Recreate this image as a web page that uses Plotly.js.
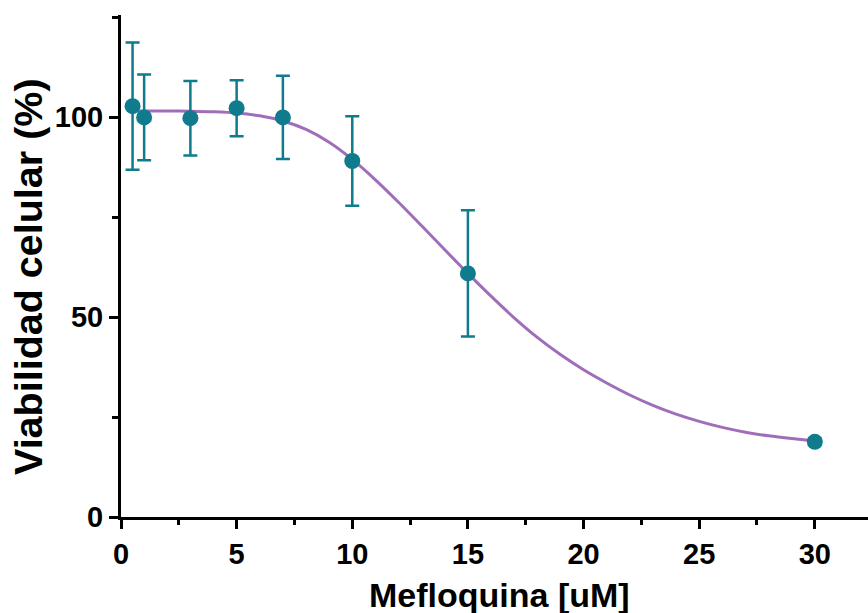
<!DOCTYPE html>
<html>
<head>
<meta charset="utf-8">
<script src="https://cdn.plot.ly/plotly-3.0.1.min.js"></script>
<style>html,body{margin:0;padding:0;background:#fff;}#chart{width:868px;height:613px;}</style>
</head>
<body>
<div id="chart"></div>
<script>
// Measured points (mean ± error)
const concentration = [0.5, 1, 3, 5, 7, 10, 15, 30];
const viability = [102.7, 99.9, 99.7, 102.2, 99.9, 89.0, 60.9, 18.8];
const viabilityErr = [15.9, 10.7, 9.3, 7.0, 10.4, 11.2, 15.8, 0.8];

// Fitted curve
const curveX = [0.5, 1, 2, 3, 4, 5, 6, 7, 8, 9, 10, 11, 12, 13, 14, 15, 16, 17, 18, 19, 20, 21, 22, 23, 24, 25, 26, 27, 28, 29, 30];
const curveY = [101.5, 101.5, 101.5, 101.45, 101.3, 101.0, 100.3, 99.0, 96.9, 93.7, 89.4, 84.3, 78.7, 72.8, 66.8, 60.9, 55.2, 49.8, 44.9, 40.6, 36.8, 33.5, 30.5, 27.9, 25.7, 23.9, 22.4, 21.2, 20.3, 19.6, 19.0];

const xTickVals = [0, 5, 10, 15, 20, 25, 30];
const xTickText = ['0', '5', '10', '15', '20', '25', '30'];
const yTickVals = [0, 50, 100];
const yTickText = ['0', '50', '100'];
const xTitle = 'Mefloquina [uM]';
const yTitle = 'Viabilidad celular (%)';

const teal = '#0f7b8d';
const purple = '#a06eb9';
const FAM = 'Arial, "Liberation Sans", sans-serif';

const traces = [
  {
    x: curveX, y: curveY, type: 'scatter', mode: 'lines',
    line: {color: purple, width: 3, shape: 'spline', smoothing: 0.8},
    hoverinfo: 'skip', showlegend: false
  },
  {
    x: concentration, y: viability, type: 'scatter', mode: 'markers',
    marker: {color: teal, size: 16},
    error_y: {type: 'data', array: viabilityErr, visible: true, color: teal, thickness: 2.5, width: 7},
    showlegend: false
  }
];

const layout = {
  width: 868, height: 613,
  margin: {l: 121, r: 0, t: 15, b: 96},
  paper_bgcolor: '#fff', plot_bgcolor: '#fff',
  showlegend: false,
  xaxis: {
    range: [0, 32.3],
    tickvals: xTickVals, ticktext: xTickText,
    ticks: 'outside', ticklen: 9, tickwidth: 3, tickcolor: '#000',
    minor: {dtick: 2.5, tick0: 0, ticks: 'outside', ticklen: 5, tickwidth: 3, tickcolor: '#000'},
    showline: true, linecolor: '#000', linewidth: 3,
    showgrid: false, zeroline: false,
    tickfont: {family: FAM, size: 29, color: '#000', weight: 'bold'},
    automargin: false
  },
  yaxis: {
    range: [0, 125.5],
    tickvals: yTickVals, ticktext: yTickText,
    ticks: 'outside', ticklen: 9, tickwidth: 3, tickcolor: '#000',
    minor: {dtick: 25, tick0: 0, ticks: 'outside', ticklen: 6, tickwidth: 3, tickcolor: '#000'},
    showline: true, linecolor: '#000', linewidth: 3,
    showgrid: false, zeroline: false,
    tickfont: {family: FAM, size: 29, color: '#000', weight: 'bold'},
    automargin: false
  },
  annotations: [
    {
      text: xTitle, xref: 'paper', yref: 'paper', x: (499 - 121) / 747, y: (517 - 595) / 502,
      xanchor: 'center', yanchor: 'middle', showarrow: false,
      font: {family: FAM, size: 34, color: '#000', weight: 'bold'}
    },
    {
      text: yTitle, xref: 'paper', yref: 'paper', x: (28 - 121) / 747, y: (517 - 277) / 502,
      xanchor: 'center', yanchor: 'middle', showarrow: false, textangle: -90,
      font: {family: FAM, size: 39.5, color: '#000', weight: 'bold'}
    }
  ]
};

Plotly.newPlot('chart', traces, layout, {displayModeBar: false, staticPlot: true});
</script>
</body>
</html>
